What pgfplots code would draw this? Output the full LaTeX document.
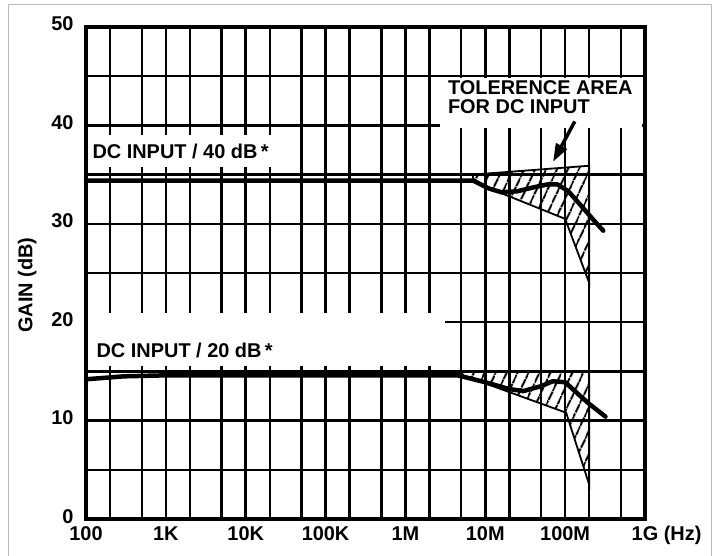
\documentclass[border=0pt]{standalone}
\usepackage{pgfplots}
\pgfplotsset{compat=1.18}
\usepackage{fontspec}
\setmainfont{Liberation Sans}
\usetikzlibrary{patterns.meta,arrows.meta}
\newcommand{\lbl}{\bfseries\fontsize{20}{22}\selectfont}
\begin{document}
\begin{tikzpicture}
\useasboundingbox (0,0) rectangle (714bp,556bp);
\draw[gray!55, line width=0.7bp] (8bp,0) -- (8bp,552bp) -- (711bp,552bp) -- (711bp,0);
\begin{axis}[
  at={(86bp,37bp)}, anchor=south west,
  scale only axis, width=559bp, height=492bp,
  xmode=log, log basis x=10,
  xmin=100, xmax=1e9, ymin=0, ymax=50,
  xtick={1e2,1e3,1e4,1e5,1e6,1e7,1e8,1e9},
  xticklabels={100,1K,10K,100K,1M,10M,100M,1G\rlap{~(Hz)}},
  minor xtick={200,500,2000,5000,2e4,5e4,2e5,5e5,2e6,5e6,2e7,5e7,2e8,5e8},
  ytick={0,10,20,30,40,50},
  yticklabels={0,10,20,30,40,50},
  minor ytick={5,15,25,35,45},
  grid=both,
  every axis grid/.append style={black, line width=2.5bp},
  major grid style={black, line width=2.5bp},
  minor grid style={black, line width=2.5bp},
  x grid style={black, line width=2.5bp},
  y grid style={black, line width=2.5bp},
  axis line style={black, line width=3.2bp},
  major tick length=0pt, minor tick length=0pt,
  ticklabel style={font=\lbl},
  xticklabel style={yshift=-4bp, text height=14bp, text depth=0pt},
  yticklabel style={xshift=-9bp, yshift=3bp, text height=14bp, text depth=0pt},
  ylabel={GAIN (dB)},
  ylabel style={font=\lbl, at={(axis description cs:-0.105,0.475)}, anchor=center},
  /pgf/number format/assume math mode=true,
  clip=false,
]
% white label boxes covering the grid
\fill[white] (axis cs:107,35.75) rectangle (axis cs:3.6e4,39.0);
\fill[white] (axis cs:107,15.55) rectangle (axis cs:3.1e6,20.9);
\fill[white] (axis cs:2.7e6,39.7) rectangle (axis cs:9.2e8,44.8);
\node[anchor=west, font=\lbl, inner sep=0pt] at (axis cs:120,37.35) {DC INPUT / 40 dB\,*};
\node[anchor=west, font=\lbl, inner sep=0pt] at (axis cs:135,17.1) {DC INPUT / 20 dB\,*};
\node[anchor=west, font=\lbl, inner sep=0pt] at (axis cs:3.4e6,43.85) {TOLERENCE AREA};
\node[anchor=west, font=\lbl, inner sep=0pt] at (axis cs:3.4e6,41.9) {FOR DC INPUT};
\draw[line width=3.5bp, -{Triangle[length=18bp,width=12bp]}] (axis cs:1.32e8,40.4) -- (axis cs:7.06e7,36.3);

% tolerance areas
\addplot[draw=black, line width=1.8bp, pattern={Lines[angle=65,distance=10bp,line width=2.2bp]}]
  coordinates {(7e6,35.0) (2e8,35.9) (2e8,24.0) (1e8,30.5) (1.05e7,33.7) (7e6,34.6) (7e6,35.0)};
\addplot[draw=black, line width=1.8bp, pattern={Lines[angle=65,distance=10bp,line width=2.2bp]}]
  coordinates {(4.5e6,15.0) (2e8,15.0) (2e8,3.5) (1.03e8,10.8) (4.5e6,14.8) (4.5e6,15.0)};

% gain curves
\addplot[black, line width=4.5bp, line join=round, line cap=round]
  coordinates {(100,34.4) (1e6,34.4) (7e6,34.4) (1.1e7,33.6) (1.6e7,33.2) (2.5e7,33.3) (4e7,33.7) (6e7,34.0) (8e7,34.0) (1.1e8,33.3) (1.6e8,31.8) (2.2e8,30.5) (3e8,29.3)};
\addplot[black, line width=4.5bp, line join=round, line cap=round]
  coordinates {(100,14.2) (300,14.5) (1000,14.6) (4.5e6,14.6) (1e7,13.9) (2e7,13.2) (3e7,13.0) (5e7,13.5) (7e7,14.0) (1e8,13.9) (1.5e8,12.6) (2e8,11.7) (3.2e8,10.4)};
\end{axis}
\end{tikzpicture}
\end{document}
